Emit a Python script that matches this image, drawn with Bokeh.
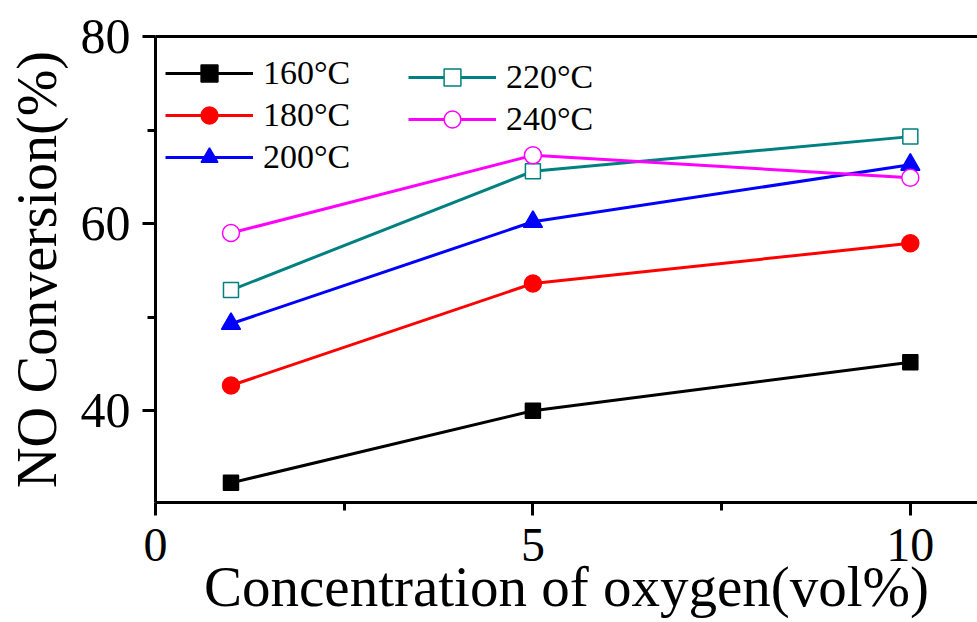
from bokeh.plotting import figure
from bokeh.models import Range1d, FixedTicker, LinearAxis, Legend, LegendItem
from bokeh.embed import file_html
from bokeh.resources import INLINE

# ---- data ----
oxygen = [1, 5, 10]
labels = ["160°C", "180°C", "200°C", "220°C", "240°C"]
conv_160 = [32.3, 40.0, 45.2]
conv_180 = [42.7, 53.6, 57.9]
conv_200 = [49.3, 60.2, 66.3]
conv_220 = [52.9, 65.6, 69.3]
conv_240 = [59.0, 67.3, 64.9]
x_ticks = [0, 5, 10]
x_minor = [2.5, 7.5]
y_ticks = [40, 60, 80]
y_minor = [30, 50, 70]

FONT = "Liberation Serif"

p = figure(frame_width=822, frame_height=466, output_backend="svg",
           toolbar_location=None,
           x_range=Range1d(0, 10.89), y_range=Range1d(30.2, 80))
p.min_border_left = 155
p.min_border_right = 0
p.min_border_top = 36
p.min_border_bottom = 120
p.outline_line_color = None
p.grid.visible = False
p.background_fill_color = "white"
p.border_fill_color = "white"

series = [
    (conv_160, "black", "square", "black", 15),
    (conv_180, "red", "circle", "red", 17),
    (conv_200, "blue", "triangle", "blue", 19),
    (conv_220, "#008080", "square", "white", 15),
    (conv_240, "#ff00ff", "circle", "white", 17),
]
items = []
for (vals, col, mk, fill, sz), lab in zip(series, labels):
    r1 = p.line(oxygen, vals, line_color=col, line_width=3)
    r2 = p.scatter(oxygen, vals, marker=mk, size=sz, line_color=col,
                   fill_color=fill, line_width=1.5)
    items.append(LegendItem(label=lab, renderers=[r1, r2]))

for ax in (p.xaxis[0], p.yaxis[0]):
    ax.axis_line_width = 3
    ax.major_tick_line_width = 3
    ax.minor_tick_line_width = 3
    ax.major_tick_in = 0
    ax.major_tick_out = 13
    ax.minor_tick_in = 0
    ax.minor_tick_out = 8
    ax.major_label_text_font = FONT
    ax.major_label_text_color = "black"
    ax.axis_label_text_font = FONT
    ax.axis_label_text_font_style = "normal"
    ax.axis_label_text_color = "black"

p.xaxis[0].major_label_text_font_size = "48px"
p.yaxis[0].major_label_text_font_size = "50px"
p.xaxis[0].axis_label_text_font_size = "57px"
p.yaxis[0].axis_label_text_font_size = "56px"
p.xaxis[0].ticker = FixedTicker(ticks=x_ticks, minor_ticks=x_minor)
p.yaxis[0].ticker = FixedTicker(ticks=y_ticks, minor_ticks=y_minor)
p.xaxis[0].axis_label = "Concentration of oxygen(vol%)"
p.yaxis[0].axis_label = "NO Conversion(%)"
p.xaxis[0].major_label_standoff = 13
p.yaxis[0].major_label_standoff = 12
p.xaxis[0].axis_label_standoff = -9
p.yaxis[0].axis_label_standoff = 10

top = LinearAxis(ticker=FixedTicker(ticks=[]), axis_line_width=3,
                 major_label_text_font_size="0px", major_tick_line_color=None,
                 minor_tick_line_color=None)
p.add_layout(top, "above")

def mk_legend(its, loc):
    lg = Legend(items=its, location=loc, orientation="vertical",
                label_text_font=FONT, label_text_font_size="34px",
                label_text_color="black", glyph_width=88, glyph_height=42,
                label_height=42, label_standoff=10, spacing=0, padding=0,
                margin=0, border_line_color=None, background_fill_alpha=0)
    return lg

p.add_layout(mk_legend(items[:3], (10, 324)))
p.add_layout(mk_legend(items[3:], (253, 362)))

open("out.html", "w").write(file_html(p, INLINE))
